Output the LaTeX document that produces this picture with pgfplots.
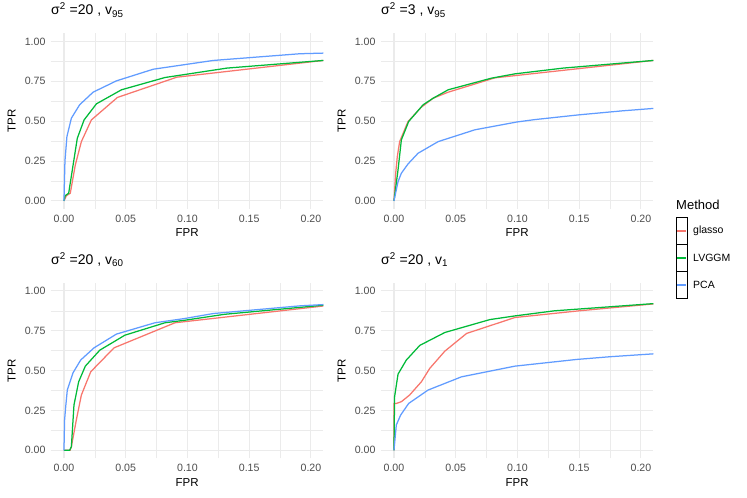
\documentclass[border=0pt]{standalone}
\usepackage{pgfplots}
\pgfplotsset{compat=1.18}
\usepackage{fontspec}
\setmainfont{Liberation Sans}
\definecolor{cglasso}{HTML}{F8766D}
\definecolor{clvggm}{HTML}{00BA38}
\definecolor{cpca}{HTML}{619CFF}
\definecolor{gridmaj}{HTML}{EBEBEB}
\definecolor{tickgrey}{HTML}{4D4D4D}
\newcommand{\ttl}[2]{σ\textsuperscript{2} =#1 , v\textsubscript{#2}}
\pgfplotsset{
 rocpanel/.style={
  scale only axis, width=272.3pt, height=175.4pt,
  xmin=-0.0105, xmax=0.21, ymin=-0.05, ymax=1.05,
  axis line style={draw=none}, tick style={draw=none},
  xtick={0,0.05,0.1,0.15,0.2}, minor xtick={0.025,0.075,0.125,0.175},
  xticklabels={0.00,0.05,0.10,0.15,0.20},
  ytick={0,0.25,0.5,0.75,1}, minor ytick={0.125,0.375,0.625,0.875},
  yticklabels={0.00,0.25,0.50,0.75,1.00},
  grid=both,
  major grid style={draw=gridmaj, line width=1.07pt},
  minor grid style={draw=gridmaj, line width=0.53pt},
  xticklabel style={font=\fontsize{10.6}{12}\selectfont, text=tickgrey, anchor=north, yshift=-2.5pt},
  yticklabel style={font=\fontsize{10.6}{12}\selectfont, text=tickgrey, anchor=east, xshift=-2pt},
  xlabel={FPR}, ylabel={TPR},
  xlabel style={at={(axis description cs:0.5,-0.1376)}, anchor=center, font=\fontsize{11.5}{13}\selectfont},
  ylabel style={at={(axis description cs:-0.1443,0.5)}, anchor=center, font=\fontsize{11.5}{13}\selectfont},
  title style={at={(axis description cs:0,1)}, anchor=base west, yshift=12.5pt, xshift=-3.3pt, font=\fontsize{14}{16}\selectfont},
  every axis plot/.append style={line width=1.25pt},
  anchor=south west,
 }
}
\begin{document}
\begin{tikzpicture}[x=1pt,y=1pt]
\fill[white] (0,0) rectangle (747,498);
\useasboundingbox (0,0) rectangle (747,498);

% top left
\begin{axis}[rocpanel, at={(51pt,289.1pt)}, title={\ttl{20}{95}}]
\addplot[cglasso] coordinates {(0,0) (0.002,0.033) (0.0051,0.048) (0.0092,0.226) (0.0141,0.372) (0.0222,0.508) (0.0433,0.649) (0.0914,0.776) (0.21,0.881)};
\addplot[clvggm] coordinates {(0,0) (0.001,0.033) (0.0038,0.048) (0.0108,0.393) (0.0163,0.508) (0.0263,0.609) (0.0466,0.697) (0.0818,0.774) (0.132,0.833) (0.21,0.881)};
\addplot[cpca] coordinates {(0,0) (0.0008,0.25) (0.0024,0.404) (0.006,0.519) (0.0127,0.603) (0.0236,0.682) (0.0425,0.753) (0.0723,0.826) (0.121,0.881) (0.191,0.923) (0.21,0.927)};
\end{axis}

% top right
\begin{axis}[rocpanel, at={(381pt,289.1pt)}, title={\ttl{3}{95}}]
\addplot[cglasso] coordinates {(0,0) (0.0014,0.174) (0.0027,0.278) (0.0046,0.372) (0.0114,0.498) (0.0222,0.588) (0.0317,0.644) (0.0439,0.682) (0.0818,0.772) (0.21,0.881)};
\addplot[clvggm] coordinates {(0,0) (0.0033,0.195) (0.006,0.383) (0.0119,0.498) (0.0236,0.603) (0.0317,0.644) (0.0439,0.697) (0.079,0.770) (0.098,0.797) (0.137,0.833) (0.21,0.881)};
\addplot[cpca] coordinates {(0,0) (0.0033,0.121) (0.006,0.174) (0.0114,0.232) (0.0195,0.299) (0.0358,0.372) (0.0655,0.446) (0.0995,0.495) (0.114,0.51) (0.15,0.54) (0.185,0.565) (0.21,0.58)};
\end{axis}

% bottom left
\begin{axis}[rocpanel, at={(51pt,39.7pt)}, title={\ttl{20}{60}}]
\addplot[cglasso] coordinates {(0,0) (0.0049,0) (0.006,0.023) (0.01,0.19) (0.0141,0.347) (0.0217,0.493) (0.0406,0.643) (0.0899,0.80) (0.21,0.905)};
\addplot[clvggm] coordinates {(0,0) (0.0046,0) (0.006,0.023) (0.0081,0.284) (0.0119,0.43) (0.0173,0.528) (0.029,0.628) (0.0493,0.722) (0.0818,0.80) (0.098,0.816) (0.13,0.853) (0.21,0.91)};
\addplot[cpca] coordinates {(0,0) (0.0005,0.19) (0.0014,0.273) (0.0027,0.378) (0.0073,0.486) (0.0135,0.566) (0.0244,0.643) (0.0425,0.729) (0.0737,0.80) (0.098,0.827) (0.121,0.858) (0.191,0.906) (0.21,0.914)};
\end{axis}

% bottom right
\begin{axis}[rocpanel, at={(381pt,39.7pt)}, title={\ttl{20}{1}}]
\addplot[cglasso] coordinates {(0,0) (0,0.294) (0.0019,0.294) (0.006,0.305) (0.0127,0.347) (0.0222,0.43) (0.029,0.514) (0.0412,0.622) (0.0588,0.733) (0.098,0.833) (0.15,0.875) (0.21,0.918)};
\addplot[clvggm] coordinates {(0,0) (0.0005,0.336) (0.0033,0.478) (0.01,0.566) (0.0209,0.658) (0.0412,0.739) (0.0777,0.82) (0.098,0.843) (0.13,0.875) (0.21,0.92)};
\addplot[cpca] coordinates {(0,0) (0.0019,0.159) (0.0054,0.221) (0.0119,0.294) (0.0276,0.378) (0.0547,0.461) (0.098,0.528) (0.148,0.57) (0.175,0.587) (0.21,0.605)};
\end{axis}

% legend
\node[anchor=base west, inner sep=0, font=\fontsize{13}{15}\selectfont] at (676,288) {Method};
\draw[black, line width=0.9pt] (676,199.7) rectangle (687.5,280.7);
\draw[black, line width=0.9pt] (676,226.7) -- (687.5,226.7);
\draw[black, line width=0.9pt] (676,253.7) -- (687.5,253.7);
\draw[cglasso, line width=1.5pt] (677.2,267.2) -- (686.3,267.2);
\draw[clvggm, line width=1.5pt] (677.2,240.2) -- (686.3,240.2);
\draw[cpca, line width=1.5pt] (677.2,213.2) -- (686.3,213.2);
\node[anchor=west, inner sep=0, font=\fontsize{10.5}{12}\selectfont] at (693,267.2) {glasso};
\node[anchor=west, inner sep=0, font=\fontsize{10.5}{12}\selectfont] at (693,240.2) {LVGGM};
\node[anchor=west, inner sep=0, font=\fontsize{10.5}{12}\selectfont] at (693,213.2) {PCA};
\end{tikzpicture}
\end{document}
